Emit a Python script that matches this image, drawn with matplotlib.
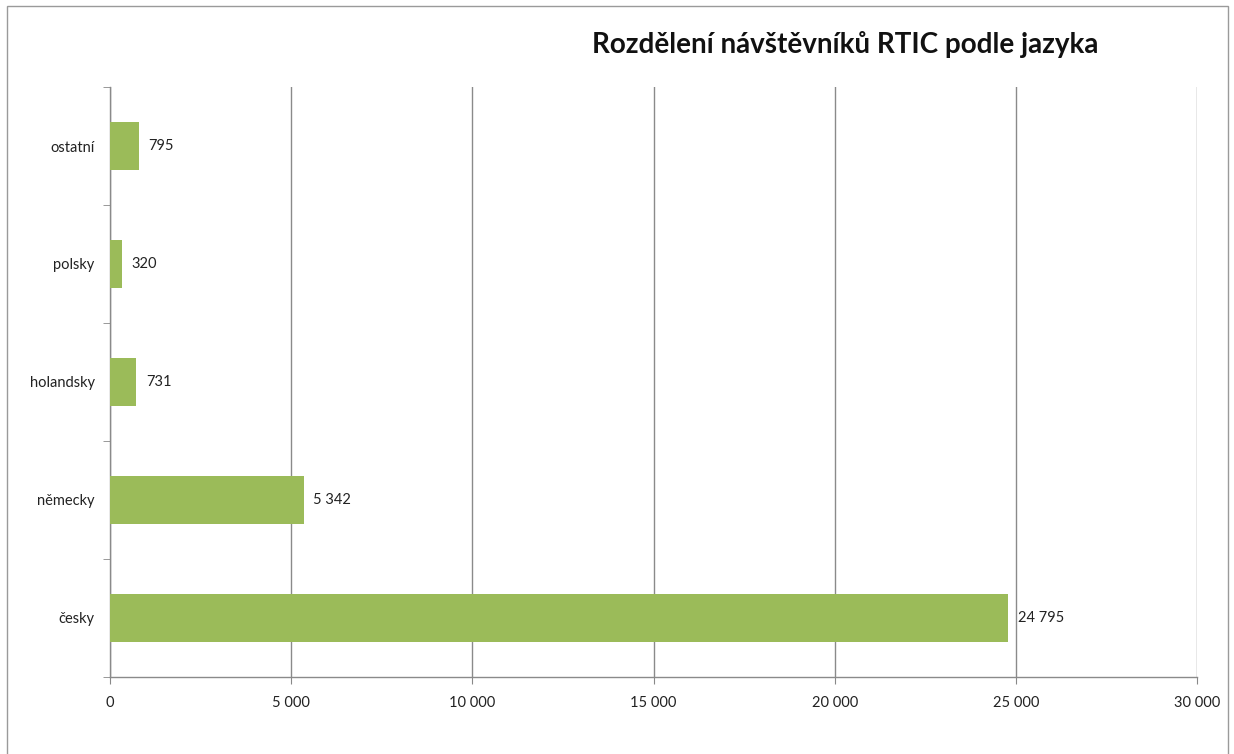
import matplotlib
matplotlib.use("Agg")
import matplotlib.pyplot as plt
from matplotlib.ticker import FixedLocator, FuncFormatter
from matplotlib.patches import Rectangle

categories = ["česky", "německy", "holandsky", "polsky", "ostatní"]
values = [24795, 5342, 731, 320, 795]
xticks = [0, 5000, 10000, 15000, 20000, 25000, 30000]
title = "Rozdělení návštěvníků RTIC podle jazyka"

plt.rcParams['font.family'] = ['Lato', 'DejaVu Sans']

def fmt(v):
    return f"{int(v):,}".replace(",", " ")

fig = plt.figure(figsize=(12.34, 7.54), dpi=100)
fig.patches.append(Rectangle((7/1234, -0.1), (1228-7)/1234, 1 + 0.1 - 6/754,
                             transform=fig.transFigure, fill=False,
                             edgecolor="#9a9a9a", linewidth=1.0))
ax = fig.add_axes([110/1234, 1-677/754, (1197-110)/1234, (677-87)/754])

y = list(range(len(categories)))
ax.barh(y, values, height=0.4, color="#9BBB59", zorder=3)
ax.set_ylim(-0.5, len(categories) - 0.5)
ax.set_xlim(0, 30000)

ax.xaxis.set_major_locator(FixedLocator(xticks))
ax.xaxis.set_major_formatter(FuncFormatter(lambda v, p: fmt(v)))
ax.set_yticks(y)
ax.set_yticklabels(categories)
ax.set_yticks([i - 0.5 for i in range(len(categories) + 1)], minor=True)
ax.tick_params(axis='y', which='major', length=0, pad=11, labelsize=10.5, colors="#222222")
ax.tick_params(axis='y', which='minor', length=5, color="#888888", direction='out')
ax.tick_params(axis='x', which='major', length=5, color="#888888", pad=9, labelsize=10.5, labelcolor="#222222")

ax.grid(axis='x', color="#8a8a8a", linewidth=1.0, zorder=0)
for s in ["top", "right"]:
    ax.spines[s].set_visible(False)
for s in ["left", "bottom"]:
    ax.spines[s].set_color("#8a8a8a")
    ax.spines[s].set_linewidth(1.0)

for yi, v in zip(y, values):
    ax.annotate(fmt(v), (v, yi), xytext=(7, 0), textcoords="offset points",
                va="center", ha="left", fontsize=10.5, color="#222222")

fig.text(845/1234, 1-45/754, title, ha="center", va="center",
         fontsize=20, fontweight="bold", color="#111111")

fig.savefig("out.png", dpi=100)
